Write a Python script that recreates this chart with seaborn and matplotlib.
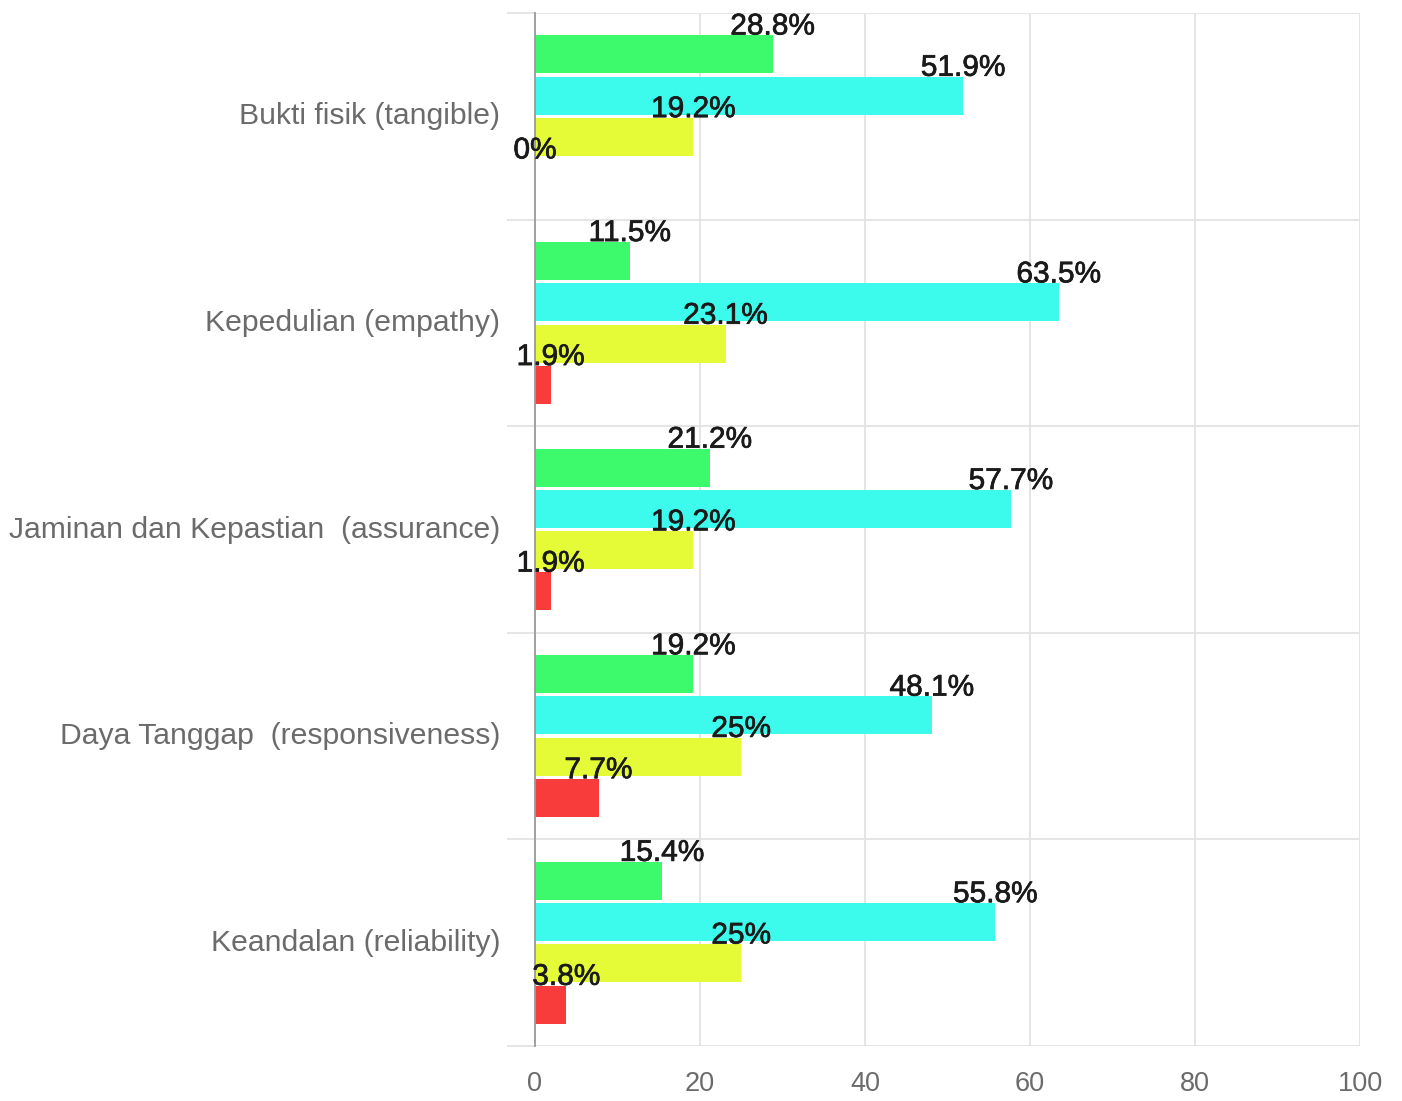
import matplotlib
matplotlib.use("Agg")
import matplotlib.pyplot as plt
import matplotlib.patheffects as pe
import seaborn as sns
import pandas as pd
from matplotlib.ticker import FixedLocator

categories = [
    "Bukti fisik (tangible)",
    "Kepedulian (empathy)",
    "Jaminan dan Kepastian  (assurance)",
    "Daya Tanggap  (responsiveness)",
    "Keandalan (reliability)",
]
series_names = ["Sangat Puas", "Puas", "Cukup Puas", "Tidak Puas"]
green_vals = [28.8, 11.5, 21.2, 19.2, 15.4]
cyan_vals = [51.9, 63.5, 57.7, 48.1, 55.8]
yellow_vals = [19.2, 23.1, 19.2, 25, 25]
red_vals = [0, 1.9, 1.9, 7.7, 3.8]
x_ticks = [0, 20, 40, 60, 80, 100]
colors = ["#3DFA6C", "#3CFBEC", "#E5FB37", "#F83C3C"]

rows = []
for name, vals in zip(series_names, [green_vals, cyan_vals, yellow_vals, red_vals]):
    for c, v in zip(categories, vals):
        rows.append({"category": c, "series": name, "value": v})
df = pd.DataFrame(rows)

sns.set_style("white")
plt.rcParams["font.family"] = ["Liberation Sans", "DejaVu Sans"]

fig = plt.figure(figsize=(14.02, 11.01), dpi=100)
ax = fig.add_axes([535 / 1402, 1 - 1046 / 1101, (1360 - 535) / 1402, (1046 - 13) / 1101])

sns.barplot(data=df, x="value", y="category", hue="series", orient="h",
            palette=colors, saturation=1, width=0.8, gap=0.08,
            legend=False, ax=ax, zorder=3, edgecolor="none")

ax.set_xlim(0, 100)
ax.set_ylim(len(categories) - 0.5, -0.5)
ax.set_xticks(x_ticks)
ax.set_xticklabels([str(t) for t in x_ticks])
ax.set_xlabel("")
ax.set_ylabel("")

grid_col = "#e3e3e3"
ax.xaxis.grid(True, color=grid_col, linewidth=1.3, zorder=0)
ax.yaxis.set_minor_locator(FixedLocator([i - 0.5 for i in range(len(categories) + 1)]))
ax.yaxis.grid(True, which="minor", color=grid_col, linewidth=1.3, zorder=0)
ax.yaxis.grid(False, which="major")
ax.tick_params(axis="y", which="minor", length=20, width=1.3, color=grid_col, left=True)
ax.tick_params(axis="y", which="major", length=0, pad=25, labelsize=21.7, labelcolor="#6b6b6b")
ax.tick_params(axis="x", which="major", length=0, pad=18, labelsize=19.5, labelcolor="#6b6b6b")
for lbl in ax.get_yticklabels():
    lbl.set_va("center")

for s in ["top", "right", "bottom"]:
    ax.spines[s].set_visible(False)
ax.spines["left"].set_color("#9a9a9a")
ax.spines["left"].set_linewidth(1.3)
ax.spines["left"].set_zorder(4)
ax.set_axisbelow(True)

for cont in ax.containers:
    for bar in cont:
        w = bar.get_width()
        ytop = min(bar.get_y(), bar.get_y() + bar.get_height())
        ax.text(w, ytop - 0.004, f"{w:g}%", ha="center", va="baseline",
                fontsize=21.5, color="#1a1a1a", zorder=6, clip_on=False,
                path_effects=[pe.withStroke(linewidth=0.5, foreground="#1a1a1a")])

fig.savefig("out.png", dpi=100)
